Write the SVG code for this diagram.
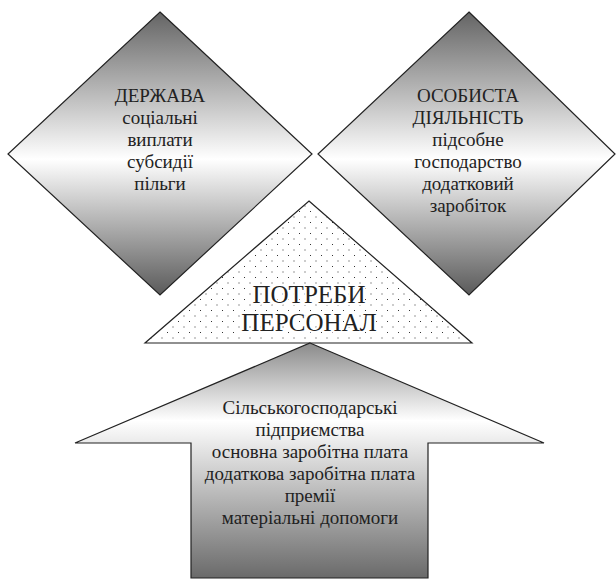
<svg xmlns="http://www.w3.org/2000/svg" width="616" height="579" viewBox="0 0 616 579">
<defs>
<linearGradient id="gd" x1="0" y1="0" x2="0" y2="1">
<stop offset="0" stop-color="#646464"/>
<stop offset="0.52" stop-color="#ffffff"/>
<stop offset="1" stop-color="#5a5a5a"/>
</linearGradient>
<linearGradient id="ga" x1="0" y1="0" x2="0" y2="1">
<stop offset="0" stop-color="#8a8a8a"/>
<stop offset="0.33" stop-color="#ffffff"/>
<stop offset="1" stop-color="#6a6a6a"/>
</linearGradient>
<pattern id="dots" x="0" y="0" width="11" height="11" patternUnits="userSpaceOnUse">
<rect width="11" height="11" fill="#ffffff"/>
<rect x="2" y="2" width="1" height="1" fill="#333"/>
<rect x="7.5" y="7.5" width="1" height="1" fill="#333"/>
</pattern>
<style>
.shape{stroke:#222;stroke-width:1.2;stroke-linejoin:miter}
.t{fill:#222;text-anchor:middle}
.big{stroke:#fff;stroke-width:4;paint-order:stroke;stroke-linejoin:round}
</style>
</defs>
<g id="connectors"></g>
<g id="derzhava">
<polygon class="shape" points="160,12 312,154 160,295 8,154" fill="url(#gd)"/>
<g class="t" font-family="Liberation Serif, serif" font-size="19">
<text x="160" y="102">ДЕРЖАВА</text>
<text x="160" y="124">соціальні</text>
<text x="160" y="146">виплати</text>
<text x="160" y="168">субсидії</text>
<text x="160" y="190">пільги</text>
</g>
</g>
<g id="osobysta">
<polygon class="shape" points="469,12 615,154 469,295 318,154" fill="url(#gd)"/>
<g class="t" font-family="Liberation Serif, serif" font-size="19">
<text x="468" y="102">ОСОБИСТА</text>
<text x="468" y="124">ДІЯЛЬНІСТЬ</text>
<text x="468" y="146">підсобне</text>
<text x="468" y="168">господарство</text>
<text x="468" y="190">додатковий</text>
<text x="468" y="212">заробіток</text>
</g>
</g>
<g id="potreby">
<polygon class="shape" points="309,201 472,343 145,343" fill="url(#dots)"/>
<g class="t big" font-family="Liberation Serif, serif" font-size="25">
<text x="309" y="303">ПОТРЕБИ</text>
<text x="309" y="331">ПЕРСОНАЛ</text>
</g>
</g>
<g id="pidpryiemstva">
<polygon class="shape" points="310,343 544,443 428,443 428,578 191,578 191,443 75,443" fill="url(#ga)"/>
<g class="t" font-family="Liberation Serif, serif" font-size="19">
<text x="310" y="414">Сільськогосподарські</text>
<text x="310" y="436">підприємства</text>
<text x="310" y="458">основна заробітна плата</text>
<text x="310" y="480">додаткова заробітна плата</text>
<text x="310" y="502">премії</text>
<text x="310" y="524">матеріальні допомоги</text>
</g>
</g>
</svg>
